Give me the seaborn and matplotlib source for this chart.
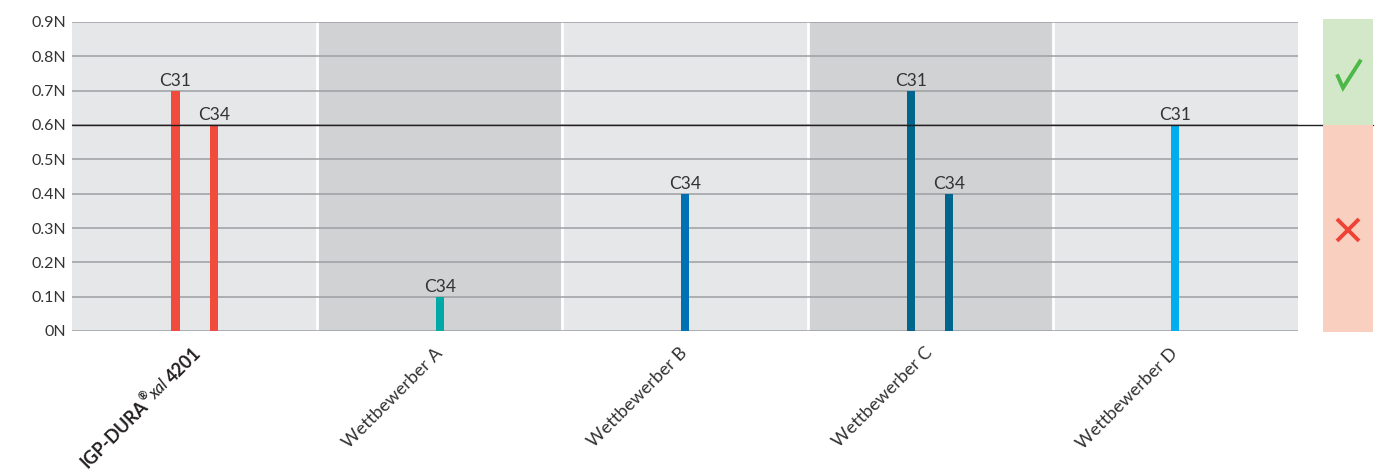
import numpy as np
import pandas as pd
import matplotlib
matplotlib.use("Agg")
import matplotlib.pyplot as plt
from matplotlib.font_manager import FontProperties
import seaborn as sns

# ===== 1. Daten =====
groups = ["IGP-DURA®xal 4201", "Wettbewerber A", "Wettbewerber B",
          "Wettbewerber C", "Wettbewerber D"]
bar_group = [0, 0, 1, 2, 3, 3, 4]
bar_label = ["C31", "C34", "C34", "C34", "C31", "C34", "C31"]
bar_value = [0.7, 0.6, 0.1, 0.4, 0.7, 0.4, 0.6]
bar_color = ["#f04b3c", "#f04b3c", "#00a9a6", "#0070b4", "#00658c", "#00658c", "#00aeef"]
yticks = [0, 0.1, 0.2, 0.3, 0.4, 0.5, 0.6, 0.7, 0.8, 0.9]
ytick_labels = ["0N", "0.1N", "0.2N", "0.3N", "0.4N", "0.5N", "0.6N", "0.7N", "0.8N", "0.9N"]
threshold = 0.6

# ===== 2. Layout =====
dodge_step = 0.156
bar_w = 0.033
bg_colors = ["#e6e7e9", "#d1d2d4"]
text_col = "#333333"
FAM = ["Lato", "DejaVu Sans"]

counts = pd.Series(bar_group).value_counts()
seen = {}
xs = []
for g in bar_group:
    k = seen.get(g, 0)
    seen[g] = k + 1
    xs.append(g + (k - (counts[g] - 1) / 2) * dodge_step)

df = pd.DataFrame({"x": xs, "value": bar_value, "key": [str(i) for i in range(len(xs))]})
palette = dict(zip(df["key"], bar_color))

sns.set_style("white")
plt.rcParams["font.family"] = FAM

W, H = 1378, 470
fig = plt.figure(figsize=(W / 100, H / 100), dpi=100)
ax = fig.add_axes([72 / W, (H - 331) / H, (1298 - 72) / W, (331 - 22) / H])

# Hintergrund je Gruppe
for i in range(len(groups)):
    ax.axvspan(i - 0.5, i + 0.5, color=bg_colors[i % 2], zorder=0, lw=0)
for i in range(len(groups) - 1):
    ax.axvline(i + 0.5, color="white", lw=2, zorder=0.5)
for t in yticks:
    ax.axhline(t, color="#9d9fa2", lw=1.1, zorder=1)

native = np.min(np.diff(np.unique(xs)))
sns.barplot(data=df, x="x", y="value", hue="key", palette=palette, native_scale=True,
            dodge=False, width=bar_w / native, legend=False, saturation=1,
            linewidth=0, edgecolor="none", ax=ax, zorder=3)

for x, v, lab in zip(xs, bar_value, bar_label):
    ax.annotate(lab, (x, v), xytext=(0, 4.5), textcoords="offset pixels",
                ha="center", va="baseline", fontsize=12.5, color=text_col)

ax.set_xlim(-0.5, len(groups) - 0.5)
ax.set_ylim(0, 0.9)
ax.set_yticks(yticks)
ax.set_yticklabels(ytick_labels, fontsize=11.5, color=text_col)
ax.set_xticks(range(len(groups)))
ax.set_xticklabels([""] + groups[1:], rotation=45, ha="right", va="center",
                   rotation_mode="anchor", fontsize=13, color=text_col)
ax.tick_params(axis="both", length=0)
ax.tick_params(axis="x", pad=14)
ax.tick_params(axis="y", pad=4)
ax.set_xlabel("")
ax.set_ylabel("")
for s in ax.spines.values():
    s.set_visible(False)

# Grenzwertlinie bis ins Bewertungsfeld
ax.plot([0, (1373 - 72) / (1298 - 72)], [threshold, threshold], color="#231f20", lw=1,
        transform=ax.get_yaxis_transform(), clip_on=False, zorder=4)

# Erstes Label: Produktname aus Teilen
renderer = fig.canvas.get_renderer()
parts = [("4201", dict(weight="bold", size=13), 0),
         ("xal ", dict(style="italic", weight="normal", size=12), 0),
         ("®", dict(weight="bold", size=8), 6),
         ("IGP-DURA", dict(weight="bold", size=13), 0)]
ang = np.deg2rad(45)
ux, uy = np.cos(ang), np.sin(ang)
ax0, ay0 = 4.0, -14 * 100 / 72
dist = 0.0
for s, kw, raise_px in parts:
    fp = FontProperties(family=FAM, **kw)
    w, _, _ = renderer.get_text_width_height_descent(s, fp, ismath=False)
    ox = ax0 - dist * ux - raise_px * uy
    oy = ay0 - dist * uy + raise_px * ux
    ax.annotate(s, (0, 0), xycoords=("data", "axes fraction"), xytext=(ox, oy),
                textcoords="offset pixels", rotation=45, rotation_mode="anchor",
                ha="right", va="center", fontproperties=fp, color="#231f20",
                annotation_clip=False)
    dist += w

# Bewertungsfeld rechts
axr = fig.add_axes([1323 / W, (H - 332) / H, 50 / W, (332 - 19) / H])
axr.set_xlim(0, 1)
axr.set_ylim(-0.003, 0.909)
axr.axhspan(threshold, 0.909, color="#d3e8c9", lw=0)
axr.axhspan(-0.003, threshold, color="#f9d0bf", lw=0)
tr = axr.transAxes
axr.plot([0.28, 0.40, 0.76], [0.823, 0.78, 0.87], color="#4cb848", lw=2.8,
         transform=tr, solid_joinstyle="miter", solid_capstyle="butt")
axr.plot([0.28, 0.72], [0.361, 0.291], color="#ef4136", lw=2.8, transform=tr,
         solid_capstyle="butt")
axr.plot([0.28, 0.72], [0.291, 0.361], color="#ef4136", lw=2.8, transform=tr,
         solid_capstyle="butt")
axr.axis("off")

fig.savefig("out.png", dpi=100)
